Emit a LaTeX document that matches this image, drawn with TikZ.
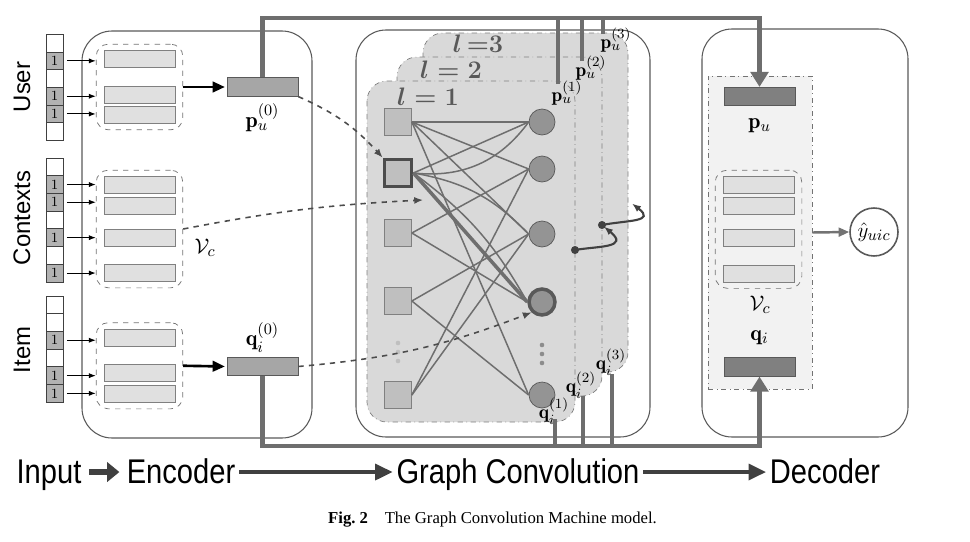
\documentclass[tikz,border=0pt]{standalone}
\usepackage{amsmath}
\usepackage{amssymb}
\usepackage{fontspec}
\usepackage{tikz}
\usetikzlibrary{arrows.meta,positioning,fit,backgrounds}
\newfontfamily\lblfont{Liberation Sans}
\newfontfamily\flowfont[FakeStretch=0.85]{Liberation Sans}
\newfontfamily\capfont{Liberation Serif}

\begin{document}
\begin{tikzpicture}[
    x=0.02cm, y=-0.02cm,
    cell/.style={draw=black!75,fill=white,minimum width=0.34cm,minimum height=0.354cm,
                 inner sep=0pt,font=\fontsize{8}{9}\selectfont},
    one/.style={cell,fill=black!30},
    emb/.style={draw=black!50,fill=black!12,minimum width=1.42cm,minimum height=0.34cm,inner sep=0pt},
    grp/.style={draw=black!55,dashed,rounded corners=7pt,inner xsep=0.15cm,inner ysep=0.12cm},
    vec/.style={draw=black!65,fill=black!35,minimum width=1.42cm,minimum height=0.37cm,inner sep=0pt},
    dvec/.style={vec,fill=black!50},
    blk/.style={draw=black!65,line width=0.6pt,rounded corners=0.6cm},
    lyr/.style={draw=black!50,fill=black!15,dash dot,rounded corners=0.4cm},
    fnode/.style={draw=black!50,fill=black!25,minimum size=0.54cm,inner sep=0pt},
    inode/.style={circle,draw=black!65,fill=black!42,minimum size=0.52cm,inner sep=0pt},
    link/.style={draw=black!57,line width=0.85pt},
    pipe/.style={draw=black!57,line width=2.8pt},
    pipearr/.style={pipe,-{Triangle[length=8.5pt,width=10pt]}},
    hot/.style={-{Latex[length=4pt,width=3pt]},line width=0.6pt,shorten <=2pt},
    fat/.style={-{Triangle[length=7pt,width=6pt]},line width=1.5pt,shorten >=1pt},
    dflow/.style={dashed,draw=black!70,line width=0.9pt,-{Latex[length=5pt,width=4pt]}},
    curl/.style={draw=black!75,line width=1.2pt,-{Latex[length=5pt,width=4pt]},shorten >=1.5pt},
    vlab/.style={font=\fontsize{12.5}{15}\selectfont,inner sep=0pt},
    klab/.style={font=\fontsize{11}{13}\selectfont,inner sep=0pt},
    sidelab/.style={rotate=90,font=\lblfont\fontsize{13.6}{16}\selectfont},
    stage/.style={font=\flowfont\fontsize{19.5}{22}\selectfont,anchor=base,inner sep=2pt,
                  text height=14pt,text depth=1.5pt},
    flow/.style={-{Triangle[length=10pt,width=9pt]},draw=black!75,line width=2.2pt},
    lay/.style={text=black!65,inner sep=0pt,font=\fontsize{15.5}{18}\selectfont\boldmath}
  ]
  \useasboundingbox (0,0) rectangle (970,541);

  \draw[blk] (82,31) rectangle (312,438);
  \draw[blk] (356,30) rectangle (650,437);
  \draw[blk] (702,29) rectangle (908,437);

  \node[sidelab] (lu) at (22,87) {User};
  \node[sidelab] (lc) at (22,218) {Contexts};
  \node[sidelab] (li) at (22,350) {Item};

  \foreach \sty/\val [count=\k] in {cell/{},one/1,cell/{},one/1,one/1,cell/{}}
    \node[\sty] (usr\k) at (54.5,{25.45+17.7*\k}) {\val};
  \foreach \sty/\val [count=\k] in {cell/{},one/1,one/1,cell/{},one/1,cell/{},one/1}
    \node[\sty] (ctx\k) at (54.5,{149.15+17.7*\k}) {\val};
  \foreach \sty/\val [count=\k] in {cell/{},cell/{},one/1,cell/{},one/1,one/1}
    \node[\sty] (itm\k) at (54.5,{287.15+17.7*\k}) {\val};

  \node[emb] (ue1) at (139.5,59) {};
  \node[emb] (ue2) at (139.5,95) {};
  \node[emb] (ue3) at (139.5,115) {};
  \node[grp,fit=(ue1)(ue3)] (ug) {};
  \node[emb] (ce1) at (139.5,185) {};
  \node[emb] (ce2) at (139.5,206) {};
  \node[emb] (ce3) at (139.5,237.5) {};
  \node[emb] (ce4) at (139.5,273) {};
  \node[grp,fit=(ce1)(ce4)] (cg) {};
  \node[emb] (ie1) at (139.5,337.5) {};
  \node[emb] (ie2) at (139.5,373) {};
  \node[emb] (ie3) at (139.5,394) {};
  \node[grp,fit=(ie1)(ie3)] (ig) {};
  \node[vlab] (vc) at (205,248) {$\mathcal{V}_c$};

  \foreach \n in {usr2,usr4,usr5}
    \draw[hot] (\n.east) -- (\n.east -| ug.west);
  \foreach \n in {ctx2,ctx3,ctx5,ctx7}
    \draw[hot] (\n.east) -- (\n.east -| cg.west);
  \foreach \n in {itm3,itm5,itm6}
    \draw[hot] (\n.east) -- (\n.east -| ig.west);

  \node[vec] (pu0) at (262.5,87) {};
  \node[vec] (qi0) at (262.5,366.5) {};
  \node[vlab,below=0.14cm of pu0] (pu0l) {$\mathbf{p}_u^{(0)}$};
  \node[vlab,above=0.08cm of qi0] (qi0l) {$\mathbf{q}_i^{(0)}$};
  \draw[fat] (ug.east) -- (pu0.west);
  \draw[fat] (ig.east) -- (qi0.west);

  \draw[lyr] (423,33) rectangle (628,372);
  \draw[lyr] (397,57) rectangle (602,396);
  \draw[lyr] (367,81) rectangle (575,422);
  \node[lay] (l3) at (478,44) {$l\,{=}3$};
  \node[lay] (l2) at (451,70) {$l = 2$};
  \node[lay] (l1) at (428,97) {$l = 1$};

  \node[fnode] (f1) at (398,122) {};
  \node[fnode,draw=black!70,line width=2.2pt] (f2) at (398,173) {};
  \node[fnode] (f3) at (398,233) {};
  \node[fnode] (f4) at (398,301) {};
  \node[fnode] (f5) at (398,395) {};
  \node[inode] (n1) at (542,122) {};
  \node[inode] (n2) at (542,169) {};
  \node[inode] (n3) at (542,234) {};
  \node[inode,line width=2pt] (n4) at (542,302) {};
  \node[inode] (n5) at (542,395) {};
  \foreach \k in {1,2,3} {
    \fill[black!25] (398,{334+9*\k}) circle (1.3pt);
    \fill[black!45] (542,{336+9*\k}) circle (1.3pt);
  }

  \foreach \a/\b in {f1/n1,f1/n2,f1/n3,f1/n5,f2/n1,f3/n2,f3/n4,f4/n3,f4/n5,f5/n2,f5/n3}
    \draw[link] (\a.east) -- (\b.west);
  \draw[link] (f2.east) to[bend right=30] (n1.west);
  \draw[link] (f2.east) to[bend left=18] (n3.west);
  \draw[link] (f2.east) to[bend left=12] (n4.west);
  \draw[link,line width=2pt] (f2.east) -- (n4.west);

  \node[klab] (pu1) at (567,93) {$\mathbf{p}_u^{(1)}$};
  \node[klab] (pu2) at (591,68) {$\mathbf{p}_u^{(2)}$};
  \node[klab] (pu3) at (616,40) {$\mathbf{p}_u^{(3)}$};
  \node[klab] (qi1) at (554,411) {$\mathbf{q}_i^{(1)}$};
  \node[klab] (qi2) at (581,385) {$\mathbf{q}_i^{(2)}$};
  \node[klab] (qi3) at (611,362) {$\mathbf{q}_i^{(3)}$};

  \node[draw=black!55,dash dot,fill=black!5,minimum width=2.08cm,minimum height=6.26cm,
        inner sep=0pt] (dec) at (760,232.5) {};
  \node[dvec] (dpu) at (759.5,96.5) {};
  \node[vlab,below=0.24cm of dpu] (dpul) {$\mathbf{p}_u$};
  \node[emb] (de1) at (758.5,185) {};
  \node[emb] (de2) at (758.5,206) {};
  \node[emb] (de3) at (758.5,237.5) {};
  \node[emb] (de4) at (758.5,273.5) {};
  \node[grp,fit=(de1)(de4)] (dg) {};
  \node[vlab] (dvc) at (760,305) {$\mathcal{V}_c$};
  \node[dvec] (dqi) at (759.5,367) {};
  \node[vlab,above=0.24cm of dqi] (dqil) {$\mathbf{q}_i$};
  \node[circle,draw=black!65,line width=0.9pt,minimum size=0.96cm,inner sep=0pt,
        font=\fontsize{12.5}{15}\selectfont] (yh) at (874,232) {$\hat{y}_{uic}$};
  \draw[-{Triangle[length=6pt,width=5pt]},draw=black!55,line width=1.4pt] (dec.east) -- (yh.west);

  \coordinate (top) at (0,18);
  \coordinate (bot) at (0,446);
  \coordinate (u1) at (558,84);
  \coordinate (u2) at (582,61);
  \coordinate (u3) at (603,34);
  \coordinate (i1) at (555,419);
  \coordinate (i2) at (583,396);
  \coordinate (i3) at (612,374);
  \draw[pipearr] (pu0.north) -- (pu0.north |- top) -| (dpu.north);
  \draw[pipearr] (qi0.south) -- (qi0.south |- bot) -| (dqi.south);
  \foreach \k in {1,2,3} {
    \draw[pipe] (u\k) -- (u\k |- top);
    \draw[pipe] (i\k) -- (i\k |- bot);
  }

  \coordinate (cin) at (423,200);
  \draw[dflow] (pu0.south east) to[bend left=12] (f2.north west);
  \draw[dflow] (cg.east) to[bend left=4] (cin);
  \draw[dflow] (qi0.east) to[bend right=8] (n4.south west);

  \coordinate (k1) at (575,250);
  \coordinate (k2) at (602,225);
  \coordinate (k3) at (630,202);
  \draw[curl] (k1) .. controls (598,246) and (630,248) .. (k2);
  \draw[curl] (k2) .. controls (628,220) and (656,222) .. (k3);
  \fill[black!75] (k1) circle (2.3pt);
  \fill[black!75] (k2) circle (2.3pt);

  \node[stage] (inp) at (49,483) {Input};
  \node[stage] (enc) at (181,483) {Encoder};
  \node[stage] (gcv) at (518,483) {Graph Convolution};
  \node[stage] (dcd) at (825,483) {Decoder};
  \draw[-{Triangle[length=7pt,width=11pt]},draw=black!75,line width=3.5pt,
        shorten <=2pt,shorten >=2pt] (inp.east) -- (enc.west);
  \draw[flow] (enc.east) -- (gcv.west);
  \draw[flow] (gcv.east) -- (dcd.west);

  \node[font=\capfont\fontsize{9.5}{11}\selectfont,anchor=base west] (cap) at (322,523)
       {\textbf{Fig.~2}\quad The Graph Convolution Machine model.};
\end{tikzpicture}
\end{document}
